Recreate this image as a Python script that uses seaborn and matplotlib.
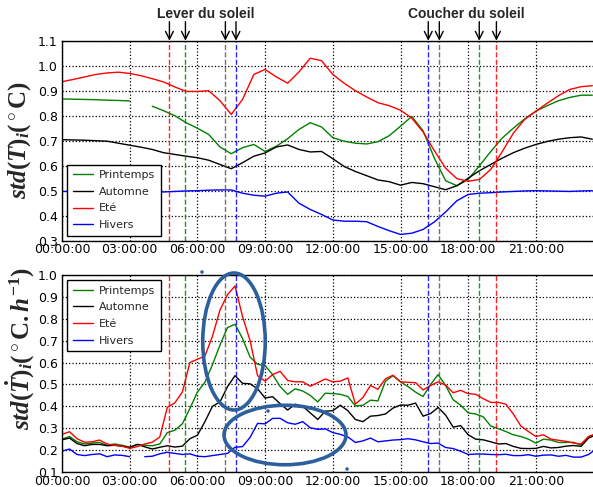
import numpy as np
import pandas as pd
import matplotlib
matplotlib.use("Agg")
import matplotlib.pyplot as plt
from matplotlib.ticker import FuncFormatter, MultipleLocator
from matplotlib.patches import Ellipse
import seaborn as sns

nan = np.nan

# Saisons et couleurs
saisons = ["Printemps", "Automne", "Eté", "Hivers"]
couleurs = {"Printemps": "g", "Automne": "k", "Eté": "r", "Hivers": "b"}
couleurs_tirets = {"Printemps": "g", "Automne": "0.35", "Eté": "r", "Hivers": "b"}

# Heures de lever / coucher du soleil (heures décimales)
lever = {"Eté": 4.76, "Printemps": 5.47, "Automne": 7.24, "Hivers": 7.71}
coucher = {"Hivers": 16.23, "Automne": 16.72, "Printemps": 18.49, "Eté": 19.25}

# Écart-type de la température, pas de 30 min
heures_T = np.arange(48) * 0.5
std_T_printemps = [0.867, 0.866, 0.865, 0.864, 0.862, 0.861, 0.859, nan, 0.838, 0.82,
                   0.80, 0.772, 0.75, 0.725, 0.675, 0.648, 0.672, 0.685, 0.657, 0.678,
                   0.708, 0.745, 0.772, 0.755, 0.712, 0.698, 0.69, 0.687, 0.696, 0.72,
                   0.758, 0.797, 0.74, 0.63, 0.54, 0.52, 0.545, 0.60, 0.657, 0.71,
                   0.75, 0.787, 0.818, 0.84, 0.86, 0.873, 0.882, 0.882]
std_T_automne = [0.704, 0.703, 0.702, 0.70, 0.698, 0.69, 0.682, 0.674, 0.665, 0.652,
                 0.645, 0.638, 0.632, 0.622, 0.605, 0.588, 0.612, 0.638, 0.651, 0.675,
                 0.683, 0.665, 0.655, 0.657, 0.628, 0.597, 0.577, 0.56, 0.543, 0.536,
                 0.522, 0.533, 0.528, 0.516, 0.504, 0.52, 0.55, 0.58, 0.605, 0.63,
                 0.652, 0.67, 0.685, 0.697, 0.706, 0.712, 0.715, 0.706]
std_T_ete = [0.936, 0.945, 0.955, 0.965, 0.971, 0.974, 0.969, 0.96, 0.948, 0.935,
             0.915, 0.897, 0.897, 0.90, 0.86, 0.805, 0.865, 0.965, 0.985, 0.955,
             0.93, 0.975, 1.03, 1.02, 0.965, 0.93, 0.90, 0.875, 0.852, 0.84,
             0.822, 0.79, 0.735, 0.66, 0.59, 0.548, 0.538, 0.545, 0.585, 0.655,
             0.73, 0.785, 0.818, 0.85, 0.88, 0.905, 0.916, 0.92]
std_T_hivers = [0.497, 0.497, 0.497, 0.497, 0.497, 0.497, 0.497, 0.496, 0.495, 0.495,
                0.497, 0.499, 0.50, 0.502, 0.503, 0.503, 0.49, 0.482, 0.478, 0.49,
                0.495, 0.45, 0.425, 0.405, 0.383, 0.378, 0.378, 0.376, 0.357, 0.34,
                0.325, 0.33, 0.345, 0.375, 0.415, 0.46, 0.485, 0.49, 0.492, 0.495,
                0.497, 0.499, 0.50, 0.499, 0.498, 0.497, 0.499, 0.50]

# Écart-type de la dérivée de la température, pas de 20 min
heures_dT = np.arange(72) / 3.0
std_dT_printemps = [0.25, 0.262, 0.238, 0.228, 0.232, 0.235, 0.222, 0.228, 0.222, 0.213,
                    0.226, 0.222, 0.22, 0.228, 0.28, 0.291, 0.32, 0.39, 0.465, 0.51,
                    0.59, 0.68, 0.76, 0.775, 0.71, 0.625, 0.592, 0.586, 0.545, 0.49,
                    0.455, 0.48, 0.47, 0.45, 0.42, 0.46, 0.458, 0.455, 0.445, 0.402,
                    0.405, 0.428, 0.425, 0.515, 0.54, 0.512, 0.49, 0.465, 0.445, 0.50,
                    0.545, 0.495, 0.43, 0.405, 0.37, 0.365, 0.352, 0.31, 0.298, 0.285,
                    0.27, 0.262, 0.25, 0.232, 0.25, 0.246, 0.235, 0.235, 0.236, 0.222,
                    0.262, 0.272]
std_dT_automne = [0.247, 0.255, 0.23, 0.22, 0.226, 0.226, 0.22, 0.222, 0.218, 0.212,
                  0.226, 0.215, 0.205, 0.213, 0.22, 0.214, 0.218, 0.252, 0.268, 0.33,
                  0.40, 0.42, 0.49, 0.54, 0.505, 0.503, 0.48, 0.438, 0.444, 0.412,
                  0.383, 0.41, 0.40, 0.37, 0.34, 0.378, 0.38, 0.405, 0.38, 0.34,
                  0.33, 0.355, 0.358, 0.365, 0.392, 0.406, 0.405, 0.415, 0.355, 0.367,
                  0.395, 0.36, 0.305, 0.312, 0.27, 0.25, 0.247, 0.238, 0.228, 0.23,
                  0.217, 0.208, 0.207, 0.208, 0.217, 0.21, 0.212, 0.218, 0.221, 0.217,
                  0.255, 0.27]
std_dT_ete = [0.272, 0.284, 0.252, 0.236, 0.238, 0.246, 0.228, 0.222, 0.218, 0.208,
              0.216, 0.228, 0.236, 0.26, 0.395, 0.416, 0.465, 0.60, 0.615, 0.63,
              0.72, 0.84, 0.91, 0.95, 0.81, 0.70, 0.54, 0.515, 0.545, 0.56,
              0.518, 0.512, 0.512, 0.492, 0.508, 0.525, 0.512, 0.515, 0.53, 0.41,
              0.44, 0.495, 0.478, 0.526, 0.542, 0.512, 0.51, 0.508, 0.475, 0.495,
              0.512, 0.497, 0.462, 0.473, 0.458, 0.455, 0.435, 0.418, 0.418, 0.41,
              0.365, 0.31, 0.285, 0.262, 0.27, 0.25, 0.245, 0.24, 0.232, 0.228,
              0.262, 0.275]
std_dT_hivers = [0.195, 0.205, 0.18, 0.175, 0.18, 0.183, 0.17, 0.178, 0.176, 0.17,
                 nan, 0.17, 0.172, 0.183, 0.19, 0.185, 0.18, 0.183, 0.172, 0.17,
                 0.175, 0.18, 0.185, 0.213, 0.216, 0.258, 0.322, 0.32, 0.345, 0.345,
                 0.325, 0.318, 0.33, 0.302, 0.295, 0.297, 0.28, 0.272, 0.26, 0.235,
                 0.242, 0.255, 0.238, 0.242, 0.246, 0.248, 0.252, 0.247, 0.238, 0.23,
                 0.232, 0.212, 0.207, 0.195, 0.18, 0.182, 0.182, 0.18, 0.179, 0.181,
                 0.175, 0.175, 0.179, 0.172, 0.177, 0.178, 0.172, 0.176, 0.168, 0.168,
                 0.18, 0.205]


def table_longue(heures, series):
    """Table longue ; les valeurs manquantes coupent la courbe en segments."""
    morceaux = []
    for nom, vals in series.items():
        v = np.asarray(vals, dtype=float)
        morceaux.append(pd.DataFrame({"heure": heures, "valeur": v, "saison": nom,
                                      "segment": np.cumsum(np.isnan(v))}))
    return pd.concat(morceaux, ignore_index=True).dropna()


df_T = table_longue(heures_T, {"Printemps": std_T_printemps, "Automne": std_T_automne,
                               "Eté": std_T_ete, "Hivers": std_T_hivers})
df_dT = table_longue(heures_dT, {"Printemps": std_dT_printemps, "Automne": std_dT_automne,
                                 "Eté": std_dT_ete, "Hivers": std_dT_hivers})

sns.set_style("white")
plt.rcParams["font.family"] = ["DejaVu Sans"]
plt.rcParams["mathtext.fontset"] = "custom"
plt.rcParams["mathtext.rm"] = "Liberation Serif:bold"
plt.rcParams["mathtext.it"] = "Liberation Serif:italic:bold"
plt.rcParams["mathtext.bf"] = "Liberation Serif:bold"

W, H = 593, 487
fig = plt.figure(figsize=(W / 100, H / 100), dpi=100)
ax1 = fig.add_axes([62 / W, 1 - 240.7 / H, 1 - 62 / W, 200 / H])
ax2 = fig.add_axes([62 / W, 1 - 472 / H, 1 - 62 / W, 197 / H])

for ax, df in ((ax1, df_T), (ax2, df_dT)):
    sns.lineplot(data=df, x="heure", y="valeur", hue="saison", hue_order=saisons,
                 palette=couleurs, units="segment", estimator=None, lw=1.0, ax=ax)
    for s, h in list(lever.items()) + list(coucher.items()):
        ax.axvline(h, color=couleurs_tirets[s], ls="--", lw=1.0, alpha=0.85)
    ax.set_xlim(0, 23.53)
    ax.xaxis.set_major_locator(MultipleLocator(3))
    ax.xaxis.set_major_formatter(FuncFormatter(lambda v, p: f"{int(round(v)):02d}:00:00"))
    ax.yaxis.set_major_locator(MultipleLocator(0.1))
    ax.yaxis.set_major_formatter(FuncFormatter(lambda v, p: f"{v:.1f}"))
    ax.grid(True, ls=":", color="k", lw=0.9)
    ax.set_axisbelow(True)
    ax.tick_params(direction="in", length=4, labelsize=9, colors="k")
    ax.tick_params(axis="x", pad=2)
    ax.tick_params(axis="y", pad=3)
    ax.set_xlabel("")
    for side in ("left", "bottom", "top"):
        ax.spines[side].set_color("k")
        ax.spines[side].set_linewidth(1.0)
    ax.spines["right"].set_visible(False)
    sns.move_legend(ax, "upper left" if ax is ax2 else "lower left", title=None,
                    frameon=True, fancybox=False, edgecolor="k", framealpha=1,
                    fontsize=8, handlelength=1.8, handletextpad=0.6,
                    labelspacing=0.6, borderpad=0.5, borderaxespad=0.45)
    ax.get_legend().get_frame().set_linewidth(1.0)

ax1.set_ylim(0.3, 1.1)
ax2.set_ylim(0.1, 1.0)

ax1.set_ylabel(r"$std(T)_i(^\circ\mathrm{C})$", fontsize=18, va="center")
ax1.yaxis.set_label_coords(-42 / 531, 0.503)
ax2.set_ylabel(r"$std(\dot{T})_i(^\circ\mathrm{C}.h^{-1})$", fontsize=18, va="center")
ax2.yaxis.set_label_coords(-42 / 531, 0.624)

# Flèches du lever et du coucher du soleil
tr = ax1.get_xaxis_transform()
for h in list(lever.values()) + list(coucher.values()):
    ax1.annotate("", xy=(h, 1.0), xycoords=tr, xytext=(h, 1.095), textcoords=tr,
                 arrowprops=dict(arrowstyle="->", color="k", lw=1.0,
                                 mutation_scale=14, shrinkA=0, shrinkB=0))
ax1.text(6.38, 1.136, "Lever du soleil", transform=tr, ha="center", va="center",
         fontsize=10, fontweight="bold", family=["Liberation Sans"])
ax1.text(17.9, 1.136, "Coucher du soleil", transform=tr, ha="center", va="center",
         fontsize=10, fontweight="bold", family=["Liberation Sans"])

# Entourages tracés à la main sur la figure
bleu = "#2d5f9f"
for (cx, cy, w, h) in ((234, 341.5, 62.5, 137), (285, 435, 122, 59.5)):
    fig.add_artist(Ellipse((cx / W, 1 - cy / H), w / W, h / H,
                           transform=fig.transFigure, fill=False, ec=bleu, lw=2.6))
for (cx, cy) in ((202, 272), (268, 411), (347, 469)):
    fig.add_artist(Ellipse((cx / W, 1 - cy / H), 3.5 / W, 3.5 / H,
                           transform=fig.transFigure, fc=bleu, ec="none"))

fig.savefig("out.png", dpi=100)
